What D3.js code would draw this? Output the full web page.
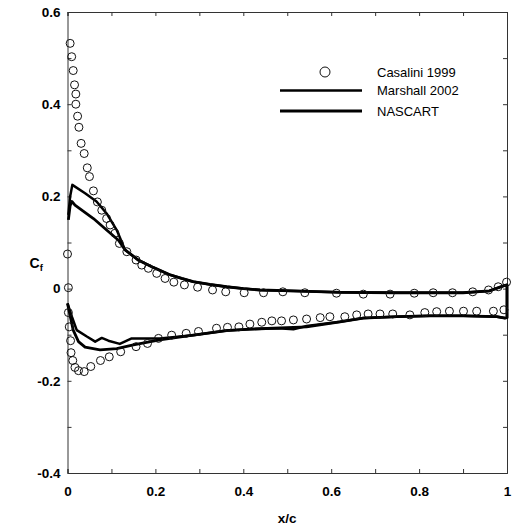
<!DOCTYPE html>
<meta charset="utf-8">
<script src="https://d3js.org/d3.v7.min.js"></script>
<style>
  body { margin: 0; background: #fff; }
  text { font-family: Arial, "Liberation Sans", sans-serif; }
  .axis text { font-weight: bold; font-size: 13.5px; fill: #000; }
  .axis path, .axis line { stroke: #333; }
</style>
<body>
<script>

// Casalini 1999 (circles)
var casUpperX  = [0, 0.006, 0.0095, 0.013, 0.016, 0.019, 0.019, 0.023, 0.026, 0.031, 0.038, 0.045, 0.050, 0.059, 0.068, 0.078, 0.089, 0.097, 0.108, 0.118, 0.135, 0.156, 0.169, 0.184, 0.203, 0.222, 0.242, 0.266, 0.296, 0.330, 0.360, 0.402, 0.446, 0.490, 0.540, 0.612, 0.673, 0.734, 0.789, 0.832, 0.876, 0.922, 0.958, 0.980, 0.999];
var casUpperCf = [0.075, 0.532, 0.503, 0.473, 0.442, 0.422, 0.400, 0.374, 0.350, 0.315, 0.293, 0.262, 0.243, 0.212, 0.188, 0.170, 0.152, 0.138, 0.120, 0.098, 0.080, 0.062, 0.051, 0.044, 0.033, 0.022, 0.014, 0.008, 0.003, -0.003, -0.007, -0.009, -0.009, -0.007, -0.009, -0.010, -0.012, -0.012, -0.010, -0.009, -0.009, -0.007, -0.003, 0.004, 0.014];
var casLowerX  = [0.002, 0.002, 0.004, 0.007, 0.008, 0.012, 0.017, 0.025, 0.038, 0.053, 0.075, 0.095, 0.121, 0.156, 0.182, 0.207, 0.237, 0.270, 0.298, 0.339, 0.364, 0.390, 0.415, 0.442, 0.465, 0.487, 0.514, 0.544, 0.575, 0.597, 0.631, 0.658, 0.684, 0.711, 0.740, 0.779, 0.813, 0.840, 0.869, 0.901, 0.931, 0.969, 0.993];
var casLowerCf = [0.002, -0.052, -0.083, -0.113, -0.139, -0.156, -0.171, -0.178, -0.180, -0.169, -0.156, -0.148, -0.137, -0.126, -0.119, -0.108, -0.101, -0.097, -0.093, -0.086, -0.084, -0.083, -0.077, -0.073, -0.070, -0.070, -0.068, -0.066, -0.063, -0.061, -0.061, -0.057, -0.055, -0.055, -0.055, -0.057, -0.052, -0.050, -0.049, -0.049, -0.049, -0.049, -0.046];

// Marshall 2002
var marUpperX  = [0.002, 0.006, 0.011, 0.040, 0.066, 0.089, 0.112, 0.131, 0.161, 0.195, 0.233, 0.260, 0.286, 0.324, 0.362, 0.400, 0.438, 0.514, 0.620, 0.750, 0.900, 0.960, 0.992, 1.0];
var marUpperCf = [0.160, 0.200, 0.225, 0.207, 0.189, 0.163, 0.127, 0.084, 0.062, 0.046, 0.030, 0.022, 0.015, 0.009, 0.004, 0.000, -0.003, -0.005, -0.008, -0.009, -0.009, -0.005, 0.006, 0.008];
var marLowerX  = [1.0, 0.995, 0.977, 0.901, 0.825, 0.749, 0.673, 0.620, 0.544, 0.514, 0.480, 0.415, 0.362, 0.286, 0.210, 0.165, 0.146, 0.119, 0.093, 0.078, 0.063, 0.044, 0.021, 0.010, 0];
var marLowerCf = [-0.063, -0.064, -0.061, -0.059, -0.059, -0.061, -0.064, -0.072, -0.081, -0.088, -0.086, -0.088, -0.091, -0.101, -0.108, -0.108, -0.108, -0.120, -0.113, -0.107, -0.115, -0.104, -0.090, -0.061, -0.032];

// NASCART
var nasUpperX  = [0.002, 0.006, 0.010, 0.017, 0.059, 0.089, 0.116, 0.131, 0.161, 0.195, 0.233, 0.260, 0.286, 0.324, 0.362, 0.400, 0.438, 0.514, 0.620, 0.750, 0.900, 0.960, 0.992, 1.0];
var nasUpperCf = [0.149, 0.180, 0.189, 0.181, 0.152, 0.127, 0.105, 0.084, 0.062, 0.046, 0.030, 0.022, 0.015, 0.009, 0.004, 0.000, -0.003, -0.005, -0.008, -0.009, -0.009, -0.005, 0.006, 0.008];
var nasLowerX  = [1.0, 0.995, 0.977, 0.901, 0.825, 0.749, 0.673, 0.620, 0.544, 0.415, 0.362, 0.286, 0.210, 0.150, 0.112, 0.074, 0.040, 0.025, 0.013, 0];
var nasLowerCf = [-0.063, -0.064, -0.061, -0.059, -0.059, -0.061, -0.064, -0.072, -0.083, -0.088, -0.091, -0.101, -0.111, -0.122, -0.130, -0.133, -0.127, -0.115, -0.090, -0.032];

var xTicks = [0, 0.1, 0.2, 0.3, 0.4, 0.5, 0.6, 0.7, 0.8, 0.9, 1.0];
var yTicks = [-0.4, -0.3, -0.2, -0.1, 0, 0.1, 0.2, 0.3, 0.4, 0.5, 0.6];

var legendNames = ["Casalini 1999", "Marshall 2002", "NASCART"];

var margin = {top: 12, right: 6, bottom: 56, left: 67.5};
var width = 513 - margin.left - margin.right;
var height = 529 - margin.top - margin.bottom;

var svg = d3.select("body").append("svg")
    .attr("width", 513)
    .attr("height", 529)
    .append("g")
    .attr("transform", "translate(" + margin.left + "," + margin.top + ")");

var xScale = d3.scaleLinear().domain([0, 1]).range([0, width]);
var yScale = d3.scaleLinear().domain([-0.4, 0.6]).range([height, 0]);

// labels only on every other tick, plain hyphen for the minus
function fmt(d) {
    var r = Math.round(d * 10);
    if (r % 2 !== 0) return "";
    if (r === 0) return "0";
    if (r === 10) return "1";
    return d3.format(".1f")(d).replace("\u2212", "-");
}

// axes, ticks pointing inward
svg.append("g").attr("class", "axis")
    .attr("transform", "translate(0," + height + ")")
    .call(d3.axisBottom(xScale).tickValues(xTicks).tickSize(-4).tickPadding(13).tickFormat(fmt));
svg.append("g").attr("class", "axis")
    .call(d3.axisTop(xScale).tickValues(xTicks).tickSize(-4).tickFormat(""));
svg.append("g").attr("class", "axis")
    .call(d3.axisLeft(yScale).tickValues(yTicks).tickSize(-4).tickPadding(7).tickFormat(fmt));
svg.append("g").attr("class", "axis")
    .attr("transform", "translate(" + width + ",0)")
    .call(d3.axisRight(yScale).tickValues(yTicks).tickSize(-4).tickFormat(""));

// axis titles
svg.append("text")
    .attr("x", width / 2)
    .attr("y", height + 50)
    .attr("text-anchor", "middle")
    .style("font-weight", "bold")
    .style("font-size", "13.5px")
    .text("x/c");

var cf = svg.append("text")
    .attr("x", -38)
    .attr("y", yScale(0.044))
    .style("font-weight", "bold")
    .style("font-size", "14px");
cf.append("tspan").text("C");
cf.append("tspan").attr("dy", 3).style("font-size", "9.5px").text("f");

var line = d3.line()
    .x(function(d) { return xScale(d[0]); })
    .y(function(d) { return yScale(d[1]); });

function zip(xs, ys) {
    return xs.map(function(x, i) { return [x, ys[i]]; });
}

// simulation lines: upper surface then down the trailing edge and back along the lower
var marshall = zip(marUpperX, marUpperCf).concat(zip(marLowerX, marLowerCf));
var nascart = zip(nasUpperX, nasUpperCf).concat(zip(nasLowerX, nasLowerCf));

svg.append("path").datum(marshall)
    .attr("d", line)
    .attr("fill", "none")
    .attr("stroke", "#000")
    .attr("stroke-width", 2.5)
    .attr("stroke-linejoin", "round");

svg.append("path").datum(nascart)
    .attr("d", line)
    .attr("fill", "none")
    .attr("stroke", "#000")
    .attr("stroke-width", 2.8)
    .attr("stroke-linejoin", "round");

// experiment circles
var cas = zip(casUpperX, casUpperCf).concat(zip(casLowerX, casLowerCf));
svg.selectAll(".cas")
    .data(cas)
    .enter().append("circle")
    .attr("class", "cas")
    .attr("cx", function(d) { return xScale(d[0]); })
    .attr("cy", function(d) { return yScale(d[1]); })
    .attr("r", 4)
    .attr("fill", "none")
    .attr("stroke", "#111")
    .attr("stroke-width", 1);

// legend
var legend = svg.append("g").attr("transform", "translate(" + (280 - margin.left) + "," + (72 - margin.top) + ")");
legend.append("circle").attr("cx", 45).attr("cy", 0).attr("r", 5)
    .attr("fill", "none").attr("stroke", "#111");
legend.append("line").attr("x1", 0).attr("x2", 82).attr("y1", 18.5).attr("y2", 18.5)
    .attr("stroke", "#000").attr("stroke-width", 2.5);
legend.append("line").attr("x1", 0).attr("x2", 82).attr("y1", 39).attr("y2", 39)
    .attr("stroke", "#000").attr("stroke-width", 2.8);
legend.selectAll(".lt")
    .data(legendNames)
    .enter().append("text")
    .attr("class", "lt")
    .attr("x", 97)
    .attr("y", function(d, i) { return [0, 18.5, 39][i]; })
    .attr("dy", "0.35em")
    .style("font-size", "13px")
    .text(function(d) { return d; });

</script>
</body>
